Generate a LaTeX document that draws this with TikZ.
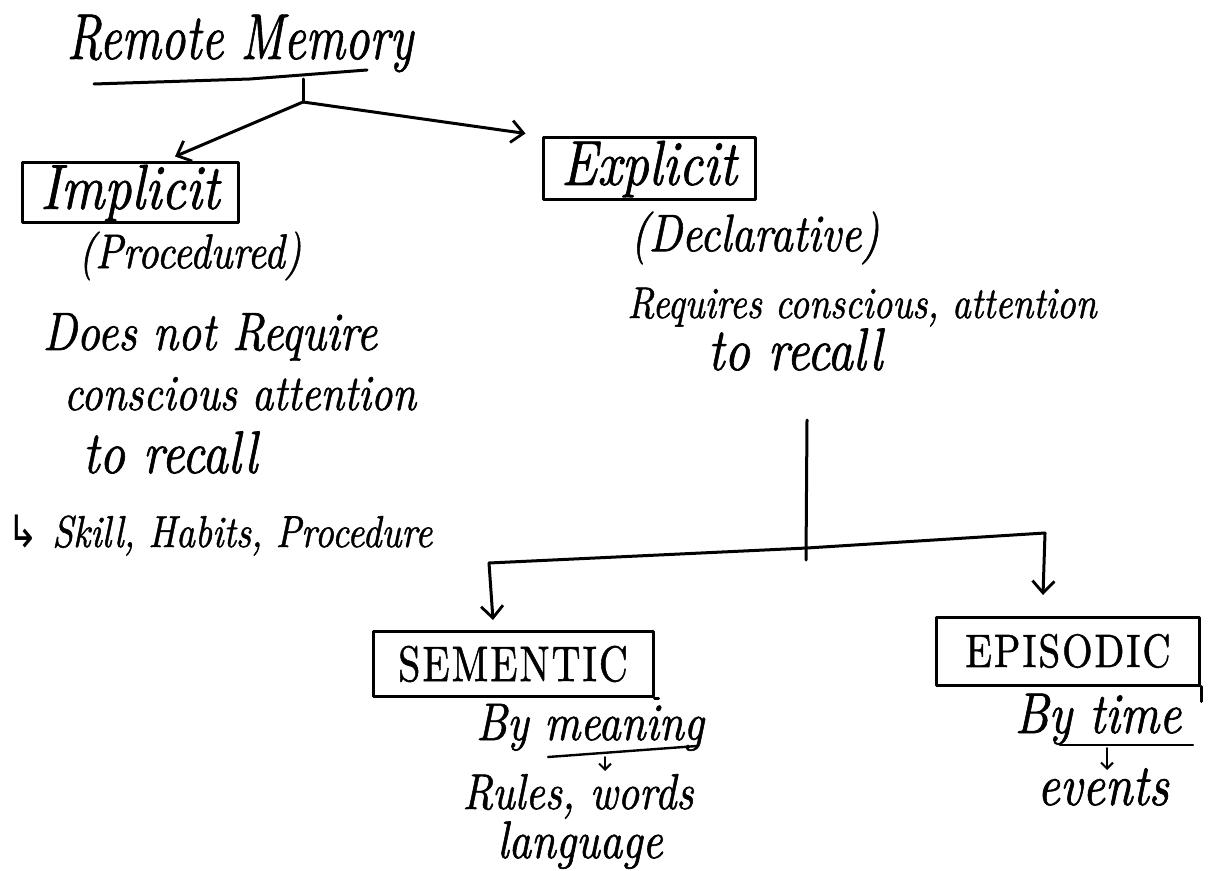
\documentclass[tikz,border=0pt]{standalone}
\usepackage{graphicx}
\usepackage{fontspec}
\newfontfamily\symfont{DejaVu Sans}
\newfontfamily\hand{lmroman10-italic.otf}[FakeBold=1.2]
\newfontfamily\handup{lmroman10-regular.otf}[FakeBold=1.2]
\usetikzlibrary{arrows.meta}
% pen-like lettering: slanted, a little heavy and taller than the plain face
\newcommand{\fs}[1]{\fontsize{#1}{#1}\selectfont\hand}
\newcommand{\caps}[1]{\fontsize{#1}{#1}\selectfont\handup}
\newcommand{\tall}[2][1.2]{\scalebox{1}[#1]{#2}}
\tikzset{
  pen/.style={line width=1.5pt, line cap=round, line join=round},
  tip/.style={pen, -{Straight Barb[length=6pt,width=11pt,line width=1.4pt]}},
  smalltip/.style={line width=1pt, line cap=round, -{Straight Barb[length=3pt,width=6pt]}},
  box/.style={draw, pen, inner sep=0pt, font=\fs{26.5}},
  txt/.style={inner sep=0pt, anchor=base},
}
\begin{document}
\begin{tikzpicture}[x=0.5pt,y=-0.5pt]
  \useasboundingbox (0,0) rectangle (1209,871);

  % title and its underline
  \node[txt, font=\fs{24}] (rm) at (240,59) {\tall[1.35]{Remote Memory}};
  \coordinate (ulA) at (94,84);
  \coordinate (ulM) at (250,79);
  \coordinate (ulB) at (367,70);
  \draw[pen] (ulA) -- (ulM) -- (ulB);

  % top branch
  \coordinate (j0) at (303,79);
  \coordinate (j) at (303,102);

  \node[box, minimum width=108pt, minimum height=30pt] (impl) at (130,193) {\tall{Implicit}};
  \node[box, minimum width=106pt, minimum height=31pt] (expl) at (649,169) {\tall{Explicit}};

  \draw[pen] (j0) -- (j);
  \draw[tip] (j) -- ([xshift=22.5pt,yshift=2.5pt]impl.north);
  \draw[tip] (j) -- ([xshift=-8pt,yshift=1.5pt]expl.north west);

  % implicit notes
  \node[inner sep=0pt, font=\fs{20.3}] (proc) at (190,256) {\tall{(Procedured)}};
  \node[txt, font=\fs{22.5}] (dn1) at (210,350) {\tall{Does not Require}};
  \node[txt, font=\fs{21}] (dn2) at (240,410) {\tall{conscious attention}};
  \node[txt, font=\fs{25}] (dn3) at (170,473) {\tall{to recall}};
  \node[txt, font=\fs{18.6}] (sk) at (220,547) {\tall{{\symfont ↳} Skill, Habits, Procedure}};

  % explicit notes
  \node[inner sep=0pt, font=\fs{22}] (decl) at (755,238) {\tall{(Declarative)}};
  \node[txt, font=\fs{18.5}] (rq1) at (862,318) {\tall{Requires conscious, attention}};
  \node[txt, font=\fs{25}] (rq2) at (795,370) {\tall{to recall}};

  % split into the two explicit kinds
  \coordinate (v0) at (807,420);
  \coordinate (v1) at (806,560);
  \coordinate (hl) at (489,563);
  \coordinate (hm) at (807,548);
  \coordinate (hr) at (1045,533);
  \draw[pen] (v0) -- (v1);
  \draw[pen] (hl) -- (hm) -- (hr);

  \node[box, font=\caps{20}, minimum width=140pt, minimum height=32.5pt] (sem) at (513,664) {\tall[1.25]{S\kern1pt E\kern1pt M\kern1pt E\kern1pt N\kern1pt T\kern1pt I\kern1pt C}};
  \node[box, font=\caps{19.5}, minimum width=131.5pt, minimum height=34pt] (epi) at (1068,651) {\tall[1.2]{E\kern1pt P\kern1pt I\kern1pt S\kern1pt O\kern1pt D\kern1pt I\kern1pt C}};
  % the pen runs on past a couple of corners
  \draw[pen] (epi.south east) -- ++(0,15);
  \draw[pen] (sem.south east) -- ++(4,0);

  \coordinate (semtip) at (493,620);
  \coordinate (epitip) at (1043,595);
  \draw[tip] (hl) -- (semtip);
  \draw[tip] (hr) -- (epitip);

  % semantic notes
  \node[txt, font=\fs{22}] (bym) at (590,740) {\tall{By meaning}};
  \coordinate (ma) at (548,757);
  \coordinate (mb) at (697,746);
  \draw[pen, line width=1.2pt] (ma) -- (mb);
  \coordinate (mc) at (605,757);
  \coordinate (md) at (605,771);
  \draw[smalltip] (mc) -- (md);
  \node[txt, font=\fs{21}] (rw) at (578,809) {\tall{Rules, words}};
  \node[txt, font=\fs{22}] (lang) at (580,858) {\tall{language}};

  % episodic notes
  \node[txt, font=\fs{24}] (byt) at (1098,733) {\tall{By time}};
  \coordinate (ta) at (1060,745);
  \coordinate (tb) at (1193,745);
  \draw[pen, line width=1.2pt] (ta) -- (tb);
  \coordinate (tc) at (1107,748);
  \coordinate (td) at (1107,770);
  \draw[smalltip] (tc) -- (td);
  \node[txt, font=\fs{24.5}] (ev) at (1103,805) {\tall{events}};
\end{tikzpicture}
\end{document}
